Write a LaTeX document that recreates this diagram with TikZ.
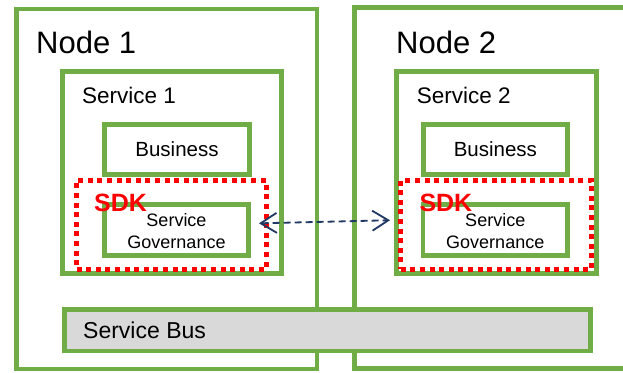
\documentclass[tikz,border=0pt]{standalone}
\usepackage{fontspec}
\setmainfont{Liberation Sans}
\usetikzlibrary{arrows.meta}
\definecolor{grn}{HTML}{70AD47}
\definecolor{navy}{HTML}{203864}
\definecolor{busgray}{HTML}{D9D9D9}
\definecolor{sdkred}{HTML}{FF0000}
\begin{document}
\begin{tikzpicture}[x=1pt,y=-1pt,
  box/.style={draw=grn, line width=4.8pt, fill=white, inner sep=0pt, outer sep=0pt, anchor=north west},
  sdkbox/.style={draw=sdkred, line width=5pt, dash pattern=on 5pt off 4.6pt, inner sep=0pt, outer sep=0pt, anchor=north west},
  lbl/.style={anchor=base west, inner sep=0pt},
  nodefont/.style={font=\fontsize{31}{36}\selectfont},
  svcfont/.style={font=\fontsize{22.5}{26}\selectfont},
  busfont/.style={font=\fontsize{20.5}{24}\selectfont},
  sgfont/.style={font=\fontsize{18}{22}\selectfont, align=center},
  sdkfont/.style={font=\fontsize{25}{28}\selectfont\bfseries, text=sdkred},
  arr/.style={draw=navy, line width=1.8pt, dash pattern=on 7pt off 4pt,
    {Straight Barb[length=16pt,width=20pt,line width=1.8pt]}-{Straight Barb[length=16pt,width=20pt,line width=1.8pt]}}
]
\clip (0,0) rectangle (623,372);
% hosts
\node[box, line width=4.5pt, minimum width=300.5pt, minimum height=360pt] (node1) at (16.5,9) {};
\node[box, line width=4.5pt, minimum width=300pt, minimum height=361pt] (node2) at (354.5,7.5) {};
\node[lbl, nodefont] (n1lbl) at (36,53) {Node 1};
\node[lbl, nodefont] (n2lbl) at (396,53) {Node 2};
% services
\node[box, minimum width=219pt, minimum height=202pt] (svc1) at (62.5,71.5) {};
\node[box, minimum width=200pt, minimum height=202pt] (svc2) at (396.5,71.5) {};
\node[lbl, svcfont] (s1lbl) at (82,103) {Service 1};
\node[lbl, svcfont] (s2lbl) at (416.7,103) {Service 2};
% business
\node[box, busfont, minimum width=145pt, minimum height=50pt] (bus1) at (104.5,124.5) {};
\node[busfont] at (bus1.center) {Business};
\node[box, busfont, minimum width=144.3pt, minimum height=50pt] (bus2) at (423.2,124.5) {};
\node[busfont] at (bus2.center) {Business};
% service governance
\node[box, minimum width=144pt, minimum height=51pt] (sg1) at (104.5,204.5) {};
\node[sgfont] at ([yshift=-1pt]sg1.center) {Service\\Governance};
\node[box, minimum width=144.5pt, minimum height=51pt] (sg2) at (423,204.5) {};
\node[sgfont] at ([yshift=-1pt]sg2.center) {Service\\Governance};
% SDK
\node[sdkbox, minimum width=189.5pt, minimum height=88.5pt] (sdk1) at (76.5,180.5) {};
\node[sdkbox, minimum width=190.9pt, minimum height=88.5pt] (sdk2) at (400.8,180.5) {};
\node[lbl, sdkfont] (sdk1lbl) at (94,211) {SDK};
\node[lbl, sdkfont] (sdk2lbl) at (419.3,211) {SDK};
% service bus
\node[box, fill=busgray, minimum width=526pt, minimum height=41.5pt] (sbus) at (64.5,309.5) {};
\node[lbl, font=\fontsize{23}{27}\selectfont] (sbuslbl) at (83,338) {Service Bus};
% connector
\draw[arr] ([xshift=10.5pt,yshift=6.7pt]sg1.east) -- ([xshift=-10.8pt,yshift=4.5pt]sdk2.west);
\end{tikzpicture}
\end{document}
